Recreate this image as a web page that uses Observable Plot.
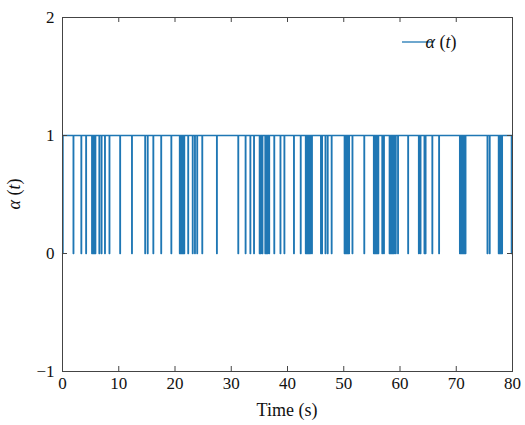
<!DOCTYPE html>
<html>
<head>
<meta charset="utf-8">
<script src="https://cdn.jsdelivr.net/npm/d3@7"></script>
<script src="https://cdn.jsdelivr.net/npm/@observablehq/plot@0.6"></script>
<style>
  html, body { margin: 0; padding: 0; background: white; }
  #chart { width: 525px; height: 425px; }
</style>
</head>
<body>
<div id="chart"></div>
<script>
// Times (s) at which alpha(t) drops to 0 (each drop lasts pulseDuration seconds)
const pulseTimes = [
  0.0, 1.9, 3.3, 4.15,
  5.2, 5.4, 5.6, 5.8,
  6.5, 6.9, 7.5, 8.3, 10.2, 12.3, 14.65, 15.1, 16.1, 17.5, 19.3,
  20.8, 21.0, 21.2, 21.4, 21.6,
  22.3, 23.1, 23.5, 23.9, 24.8, 27.4,
  31.2, 32.5, 33.35, 34.0,
  35.0, 35.2, 35.5,
  36.0, 36.2, 36.4, 36.7,
  37.6, 38.7, 39.4, 41.1, 42.3,
  43.2, 43.4, 43.6, 43.8, 44.0, 44.3,
  45.9, 46.1, 46.7, 47.1, 47.8,
  50.1, 50.3, 50.5, 50.7, 50.9,
  51.5, 53.6,
  55.3, 55.5, 55.7, 55.9, 56.1,
  56.8, 57.1,
  58.1, 58.3, 58.5, 58.7, 58.9, 59.2,
  59.6, 61.4, 63.3, 63.6, 64.3, 64.5, 65.7, 66.9,
  70.6, 70.8, 71.0, 71.2, 71.4, 71.6,
  75.5, 75.9,
  77.5, 77.7, 77.9, 78.1,
  79.8
];
const pulseDuration = 0.1;
const tEnd = 80;
const xTicks = [0, 10, 20, 30, 40, 50, 60, 70, 80];
const yTicks = [-1, 0, 1, 2];
const xDomain = [0, 80];
const yDomain = [-1, 2];
const seriesName = "α (t)";
const xLabel = "Time (s)";

// Build the step signal from the drop times
const series = [];
for (const p of pulseTimes) {
  series.push({t: p, a: 0});
  series.push({t: p + pulseDuration, a: 1});
}
series.push({t: tEnd, a: 1});

const lineColor = "#1f77b4";
const axisColor = "#444";
const textColor = "#111";
const W = 525, H = 425, mL = 62, mR = 13, mT = 17, mB = 54;
const plotW = W - mL - mR, plotH = H - mT - mB, tick = 5;
const fmt = d3.format("d");
const font = "Liberation Serif";

const chart = Plot.plot({
  width: W,
  height: H,
  marginLeft: mL,
  marginRight: mR,
  marginTop: mT,
  marginBottom: mB,
  x: {domain: xDomain},
  y: {domain: yDomain},
  style: {fontFamily: font, fontSize: "17px", color: textColor, background: "white"},
  marks: [
    Plot.line(series, {x: "t", y: "a", curve: "step-after", stroke: lineColor, strokeWidth: 1.3}),
    Plot.frame({stroke: axisColor, strokeWidth: 1}),
    // inward tick marks on all four sides
    Plot.ruleX(xTicks, {x: d => d, insetTop: plotH - tick, stroke: axisColor}),
    Plot.ruleX(xTicks, {x: d => d, insetBottom: plotH - tick, stroke: axisColor}),
    Plot.ruleY(yTicks, {y: d => d, insetRight: plotW - tick, stroke: axisColor}),
    Plot.ruleY(yTicks, {y: d => d, insetLeft: plotW - tick, stroke: axisColor}),
    Plot.axisX(xTicks, {tickSize: 0, tickPadding: 5, label: null, fontSize: 17, tickFormat: fmt}),
    Plot.axisY(yTicks, {tickSize: 0, tickPadding: 8, label: null, fontSize: 17, tickFormat: fmt})
  ]
});
document.getElementById("chart").appendChild(chart);

const svg = d3.select(chart);

function mathText(sel, str) {
  for (const ch of str) {
    const italic = /[A-Za-z\u03b1-\u03c9]/.test(ch);
    sel.append("tspan").attr("font-style", italic ? "italic" : "normal").text(ch);
  }
}

// Legend
const lg = svg.append("g");
lg.append("line").attr("x1", 402).attr("x2", 433).attr("y1", 42).attr("y2", 42)
  .attr("stroke", lineColor).attr("stroke-width", 1.3);
mathText(lg.append("text").attr("x", 441).attr("y", 48)
  .style("font-family", font).attr("font-size", 18).attr("fill", textColor), seriesName);

// Y label
mathText(svg.append("text").attr("transform", "translate(20,194) rotate(-90)")
  .attr("text-anchor", "middle").style("font-family", font).attr("font-size", 18).attr("fill", textColor), seriesName);

// X label
svg.append("text").attr("x", 287).attr("y", 416).attr("text-anchor", "middle")
  .style("font-family", font).attr("font-size", 18).attr("fill", textColor).text(xLabel);
</script>
</body>
</html>
